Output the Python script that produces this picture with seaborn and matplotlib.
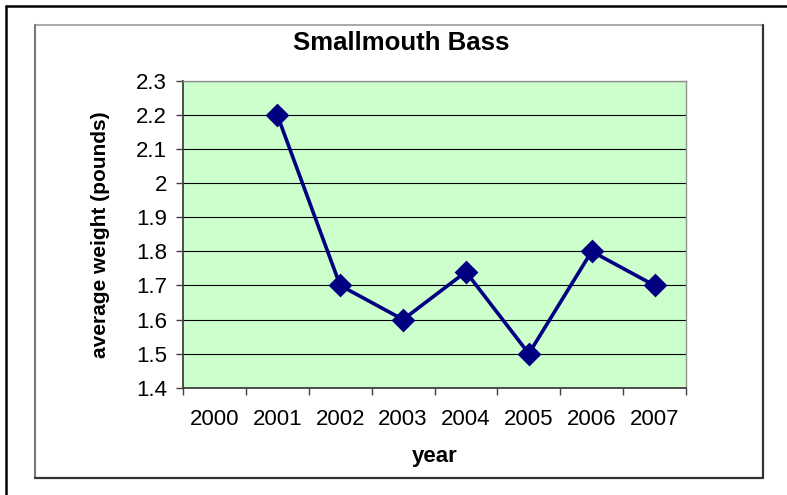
import numpy as np
import seaborn as sns
import matplotlib.pyplot as plt
from matplotlib.lines import Line2D
from matplotlib.ticker import FormatStrFormatter

categories = ['2000', '2001', '2002', '2003', '2004', '2005', '2006', '2007']
years = ['2001', '2002', '2003', '2004', '2005', '2006', '2007']
weights = [2.2, 1.7, 1.6, 1.74, 1.5, 1.8, 1.7]
y_ticks = [1.4, 1.5, 1.6, 1.7, 1.8, 1.9, 2.0, 2.1, 2.2, 2.3]

sns.set_style('white')
plt.rcParams['font.family'] = ['Liberation Sans', 'DejaVu Sans']
plt.rcParams['text.color'] = 'black'
plt.rcParams['axes.labelcolor'] = 'black'
plt.rcParams['xtick.color'] = 'black'
plt.rcParams['ytick.color'] = 'black'

W, H = 787, 495
fig = plt.figure(figsize=(W / 100, H / 100), dpi=100)

# plot area in pixel terms of the original chart
left, right, top, bottom = 183, 686, 81, 387.7
ax = fig.add_axes([left / W, 1 - bottom / H, (right - left) / W, (bottom - top) / H])
ax.set_facecolor('#CCFFCC')

sns.pointplot(x=years, y=weights, order=categories, color='#000080', markers='D',
              markersize=10, linewidth=2.6, errorbar=None, ax=ax)

# category labels in the middle, ticks on the boundaries
ax.set_xlim(-0.5, len(categories) - 0.5)
ax.set_xticks(range(len(categories)), categories)
ax.set_xticks(np.arange(-0.5, len(categories)), minor=True)
ax.tick_params(axis='x', which='major', length=0, pad=15.5, labelsize=16, labelcolor='black')
ax.tick_params(axis='x', which='minor', length=5, width=1, color='#404040', direction='out', bottom=True)

ax.set_ylim(y_ticks[0], y_ticks[-1])
ax.set_yticks(y_ticks)
ax.yaxis.set_major_formatter(FormatStrFormatter('%g'))
ax.tick_params(axis='y', length=5, width=1, color='#404040', direction='out', pad=6.5,
               labelsize=16, labelcolor='black', left=True)
ax.yaxis.grid(True, color='black', lw=0.8)
ax.xaxis.grid(False)
ax.set_axisbelow(True)

for side in ['top', 'right']:
    ax.spines[side].set_color('#909090')
    ax.spines[side].set_linewidth(1)
for side in ['left', 'bottom']:
    ax.spines[side].set_color('#404040')
    ax.spines[side].set_linewidth(1.3)

ax.set_xlabel('year', fontsize=16, fontweight='bold', color='black')
ax.xaxis.set_label_coords(0.5, -0.19)
ax.set_ylabel('average weight (pounds)', fontsize=15, fontweight='bold', color='black')
ax.yaxis.set_label_coords(-0.145, 0.5)

fig.text(401 / W, 1 - 49.5 / H, 'Smallmouth Bass', ha='center', va='baseline',
         fontsize=18.5, fontweight='bold', color='black')

# chart area border and outer frame
def fline(xs, ys, **kw):
    fig.add_artist(Line2D([x / W for x in xs], [1 - y / H for y in ys], **kw))

fline([35, 763], [25, 25], color='#999999', lw=1.2)
fline([35, 35], [25, 478], color='#777777', lw=1.5)
fline([763, 763], [25, 478], color='#333333', lw=1.6)
fline([35, 763], [478, 478], color='#333333', lw=1.6)
fline([5.5, W], [5.5, 5.5], color='black', lw=1.8)
fline([5.5, 5.5], [5.5, H], color='black', lw=1.8)

fig.savefig('out.png', dpi=100)
